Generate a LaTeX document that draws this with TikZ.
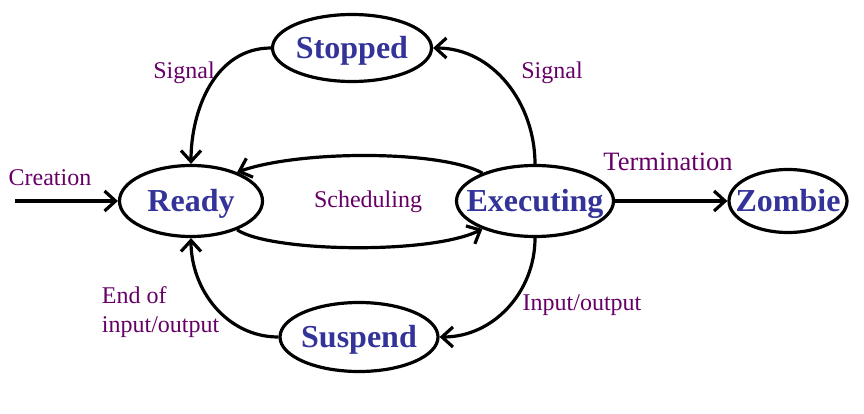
\documentclass[tikz,border=0pt]{standalone}
\usepackage{fontspec}
\setmainfont{Liberation Serif}
\usetikzlibrary{shapes.geometric,arrows.meta}
\definecolor{stateblue}{RGB}{51,51,153}
\definecolor{lblpurple}{RGB}{102,0,102}
% text that does not grow the ellipse
\newcommand{\stxt}[1]{\makebox[0pt]{\raisebox{-0.33em}[0pt][0pt]{#1}}}
\begin{document}
\begin{tikzpicture}[x=1pt,y=1pt,line width=3.2pt,
  state/.style={draw,ellipse,inner sep=0pt,text=stateblue,font=\fontsize{32}{32}\selectfont\bfseries},
  lbl/.style={text=lblpurple,font=\fontsize{24}{29}\selectfont},
  >={Straight Barb[length=11pt,width=20pt]}]
  \useasboundingbox (0,0) rectangle (864,-414);
  % states
  \node[state,minimum width=143pt,minimum height=71pt] (ready) at (191,-201) {\stxt{Ready}};
  \node[state,minimum width=157pt,minimum height=71pt] (exec) at (535,-201) {\stxt{Executing}};
  \node[state,minimum width=118pt,minimum height=63pt] (zombie) at (788,-201) {\stxt{Zombie}};
  \node[state,minimum width=159pt,minimum height=67pt] (stopped) at (352,-48) {\stxt{Stopped}};
  \node[state,minimum width=158pt,minimum height=69pt] (suspend) at (359,-337) {\stxt{Suspend}};
  \coordinate (start) at (15,-201);
  % transitions
  \draw[->] (start) -- (ready.west);
  \draw[->] (exec.east) -- (zombie.west);
  \draw[->] (stopped.west) to[out=180,in=90] (ready.north);
  \draw[->] (exec.north) to[out=90,in=0] (stopped.east);
  \draw[->] (exec.south) to[out=-90,in=0] (suspend.east);
  \draw[->] (suspend.west) to[out=180,in=-90] (ready.south);
  \draw[->] (exec.152) .. controls (440,-150) and (300,-150) .. (ready.32);
  \draw[->] (ready.-32) .. controls (270,-252) and (430,-255) .. (exec.-152);
  % labels
  \node[lbl] (creation) at (50,-178) {Creation};
  \node[lbl] (sigleft) at (184,-73) {Signal};
  \node[lbl] (sigright) at (552,-73) {Signal};
  \node[lbl] (sched) at (368,-202) {Scheduling};
  \node[lbl,font=\fontsize{26.5}{29}\selectfont] (term) at (668,-162) {Termination};
  \node[lbl] (io) at (582,-305) {Input/output};
  \node[lbl,align=left,anchor=west] (endio) at (97,-312) {End of\\input/output};
\end{tikzpicture}
\end{document}
